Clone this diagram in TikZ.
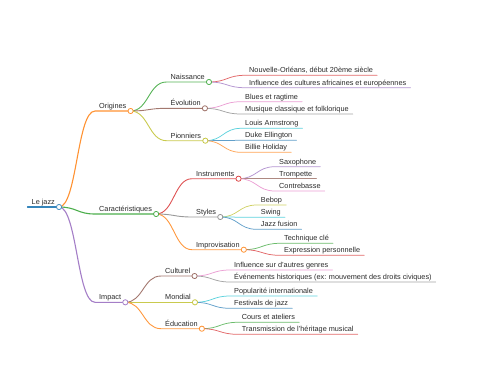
\documentclass[tikz,border=0pt]{standalone}
\usepackage{fontspec}
\setmainfont{Liberation Sans}
\usetikzlibrary{calc}
\definecolor{mmblue}{HTML}{1F77B4}
\definecolor{mmorange}{HTML}{FF7F0E}
\definecolor{mmgreen}{HTML}{2CA02C}
\definecolor{mmred}{HTML}{D62728}
\definecolor{mmpurple}{HTML}{9467BD}
\definecolor{mmbrown}{HTML}{8C564B}
\definecolor{mmpink}{HTML}{E377C2}
\definecolor{mmgray}{HTML}{7F7F7F}
\definecolor{mmolive}{HTML}{BCBD22}
\definecolor{mmcyan}{HTML}{17BECF}
\tikzset{
  mmtext/.style={anchor=south west,inner xsep=4pt,inner ysep=0.6pt,text height=5.3pt,text depth=1.6pt,
    font=\fontsize{7.3}{7.3}\selectfont,text=black!84},
  mmdot/.style={circle,fill=white,inner sep=0pt,minimum size=5.2pt,line width=0.8pt},
  lwa/.style={line width=1.1pt},
  lwb/.style={line width=0.9pt},
  lwc/.style={line width=0.75pt},
}
% one branch: name, parent, start of underline, line style, text
\newcommand{\mmbranch}[5]{%
  \node[mmtext] (#1) at (#3) {#5};
  \coordinate (#1m) at ($(#2.south east)!0.5!(#1.south west)$);
  \draw[#4] (#2.south east) .. controls (#1m |- #2.south east) and (#1m |- #1.south west) .. (#1.south west) -- (#1.south east);}

\begin{document}
\begin{tikzpicture}[x=1pt,y=-1pt,line cap=round,line join=round]
  \useasboundingbox (0,0) rectangle (480,384);
  \node[mmtext] (jazz) at (27.5,207) {Le jazz};
  \draw[mmblue!90,line width=1.3pt] (jazz.south west) -- (jazz.south east);
  % first level
  \mmbranch{orig}{jazz}{95,111}{lwa,mmorange!85}{Origines}
  \mmbranch{cara}{jazz}{95,214}{lwa,mmgreen!85}{Caractéristiques}
  \mmbranch{impa}{jazz}{95,302.3}{lwa,mmpurple!85}{Impact}
  % second level
  \foreach \n/\p/\x/\y/\c/\t in {nais/orig/166.5/82/mmgreen/Naissance,evol/orig/166.5/108.3/mmbrown/Évolution,
      pion/orig/166.5/140.7/mmolive/Pionniers,inst/cara/192/178.7/mmred/Instruments,styl/cara/192/217/mmgray/Styles,
      impr/cara/192/249.7/mmorange/Improvisation,cult/impa/161/276/mmbrown/Culturel,mond/impa/161/302.3/mmolive/Mondial,
      educ/impa/161/328.7/mmorange/Éducation}
    {\mmbranch{\n}{\p}{\x,\y}{lwb,\c!80}{\t}}
  % leaves
  \foreach \n/\p/\x/\y/\c/\t in {
      na/nais/245/75.3/mmred/{Nouvelle-Orléans, début 20ème siècle},
      nb/nais/245/87.7/mmpurple/{Influence des cultures africaines et européennes},
      ea/evol/241/101.7/mmpink/{Blues et ragtime},
      eb/evol/241/114/mmgray/{Musique classique et folklorique},
      pa/pion/241/128.3/mmcyan/{Louis Armstrong},
      pb/pion/241/140.3/mmblue/{Duke Ellington},
      pc/pion/241/152.3/mmorange/{Billie Holiday},
      ia/inst/275/166.7/mmpurple/{Saxophone},
      ib/inst/275/178.7/mmbrown/{Trompette},
      ic/inst/275/191/mmpink/{Contrebasse},
      sa/styl/256.7/205/mmolive/{Bebop},
      sb/styl/256.7/217.3/mmcyan/{Swing},
      sc/styl/256.7/229.3/mmblue/{Jazz fusion},
      ra/impr/280/243.3/mmgreen/{Technique clé},
      rb/impr/280/255.3/mmred/{Expression personnelle},
      ca/cult/230/270/mmpink/{Influence sur d'autres genres},
      cb/cult/230/282/mmgray/{Événements historiques (ex: mouvement des droits civiques)},
      ma/mond/230/296/mmcyan/{Popularité internationale},
      mb/mond/230/308.3/mmblue/{Festivals de jazz},
      da/educ/237.7/322.3/mmgreen/{Cours et ateliers},
      db/educ/237.7/334.3/mmred/{Transmission de l'héritage musical}}
    {\mmbranch{\n}{\p}{\x,\y}{lwc,\c!70}{\t}}
  % circles on top
  \foreach \n/\c in {jazz/mmblue,orig/mmorange,cara/mmgreen,impa/mmpurple,nais/mmgreen,evol/mmbrown,pion/mmolive,
      inst/mmred,styl/mmgray,impr/mmorange,cult/mmbrown,mond/mmolive,educ/mmorange}
    {\node[mmdot,draw=\c!85] (\n dot) at (\n.south east) {};}
\end{tikzpicture}
\end{document}
